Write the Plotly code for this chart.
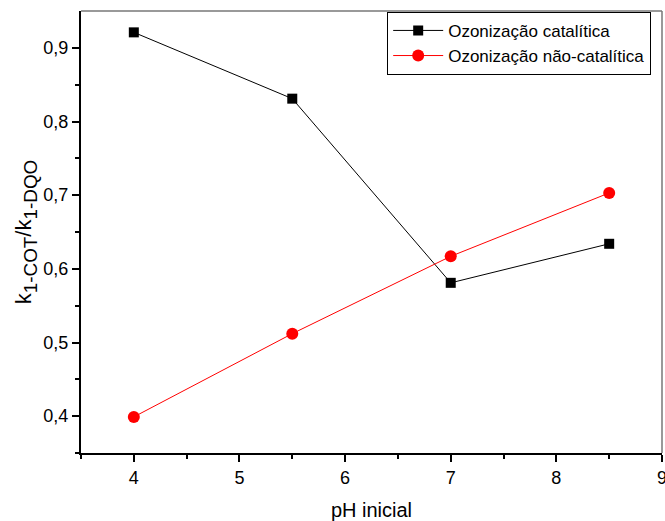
import plotly.graph_objects as go

ph = [4, 5.5, 7, 8.5]
cat = [0.921, 0.831, 0.581, 0.634]
naocat = [0.399, 0.512, 0.617, 0.703]

x_ticks = [4, 5, 6, 7, 8, 9]
y_ticks = [0.4, 0.5, 0.6, 0.7, 0.8, 0.9]
y_labels = ["0,4", "0,5", "0,6", "0,7", "0,8", "0,9"]

fig = go.Figure()
fig.add_trace(go.Scatter(x=ph, y=cat, mode="lines+markers", name="Ozonização catalítica",
                         line=dict(color="black", width=1),
                         marker=dict(symbol="square", size=10, color="black")))
fig.add_trace(go.Scatter(x=ph, y=naocat, mode="lines+markers", name="Ozonização não-catalítica",
                         line=dict(color="red", width=1),
                         marker=dict(symbol="circle", size=12, color="red")))

font = "Liberation Sans"
ytitle = ('<span style="font-size:22px">k</span><sub>1-COT</sub>'
          '<span style="font-size:22px">/k</span><sub>1-DQO</sub>')
fig.update_layout(
    width=665, height=521,
    margin=dict(l=81, r=3, t=11, b=68, autoexpand=False),
    paper_bgcolor="white", plot_bgcolor="white",
    font=dict(family=font, size=17, color="black"),
    showlegend=True,
    legend=dict(x=0.527, y=0.998, xanchor="left", yanchor="top",
                bordercolor="black", borderwidth=1, bgcolor="white",
                font=dict(family=font, size=17), tracegroupgap=0, itemwidth=50),
    xaxis=dict(range=[3.5, 9], tickmode="array", tickvals=x_ticks,
               ticks="outside", ticklen=7, tickwidth=2, tickcolor="black",
               tickfont=dict(family=font, size=18), ticklabeloverflow="allow",
               automargin=False,
               showline=True, linewidth=2, linecolor="black", mirror=False,
               showgrid=False, zeroline=False,
               minor=dict(tickvals=[3.5, 4.5, 5.5, 6.5, 7.5, 8.5], ticks="outside", ticklen=4, tickwidth=2, tickcolor="black"),
               title=dict(text="pH inicial", font=dict(family=font, size=20), standoff=16)),
    yaxis=dict(range=[0.35, 0.95], tickmode="array",
               tickvals=y_ticks, ticktext=y_labels,
               ticks="outside", ticklen=7, tickwidth=2, tickcolor="black",
               tickfont=dict(family=font, size=18), automargin=False,
               showline=True, linewidth=2, linecolor="black",
               showgrid=False, zeroline=False,
               minor=dict(tickvals=[0.35, 0.45, 0.55, 0.65, 0.75, 0.85], ticks="outside", ticklen=4, tickwidth=2, tickcolor="black"),
               title=dict(text=ytitle, font=dict(family=font, size=27), standoff=4)),
)
fig.add_shape(type="line", xref="paper", yref="paper", x0=0, x1=1, y0=1, y1=1,
              line=dict(color="#777777", width=1.5))
fig.add_shape(type="line", xref="paper", yref="paper", x0=1, x1=1, y0=0, y1=1,
              line=dict(color="#777777", width=1.5))

fig.write_html("out.html")
